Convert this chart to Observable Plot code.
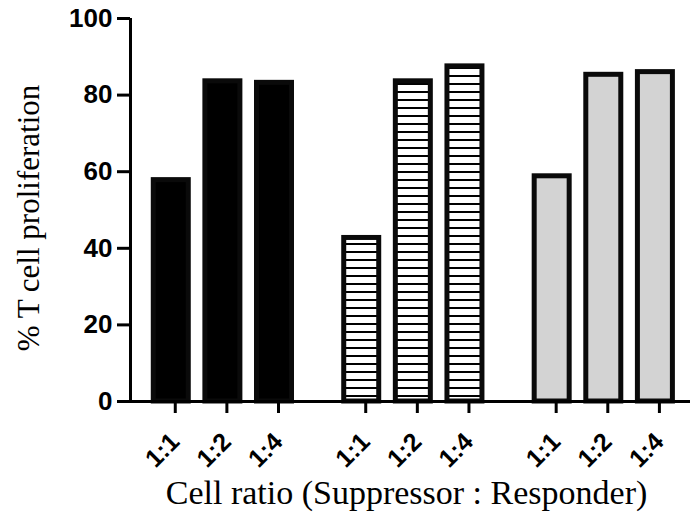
<!DOCTYPE html>
<html>
<head>
<meta charset="utf-8">
<script src="https://cdn.jsdelivr.net/npm/d3@7"></script>
<script src="https://cdn.jsdelivr.net/npm/@observablehq/plot@0.6"></script>
<style>
  html, body { margin: 0; padding: 0; background: #fff; }
  #chart { width: 691px; height: 518px; }
</style>
</head>
<body>
<div id="chart"></div>
<script>
// ---- data ----
const groupIndex = [0, 1, 2];                 // three unlabeled bar groups
const ratios = ["1:1", "1:2", "1:4"];          // tick labels
const groupValues = [
  [57.8, 83.6, 83.2],   // group 1 (solid black)
  [42.7, 83.6, 87.5],   // group 2 (horizontal stripes)
  [58.8, 85.3, 86.0]    // group 3 (light gray)
];
const groupFills = ["black", "url(#hatch)", "#d3d3d3"];
const yTicks = [0, 20, 40, 60, 80, 100];
const yLabel = "% T cell proliferation";
const xLabel = "Cell ratio (Suppressor : Responder)";

// ---- layout constants ----
const groupStep = 3.69;   // in bar slots
const halfBar = 0.339;
const xDomain = [-0.79, 10.06];

const rows = [];
groupIndex.forEach(g => {
  ratios.forEach((r, i) => {
    rows.push({group: g, ratio: r, pos: g * groupStep + i, value: groupValues[g][i], fill: groupFills[g]});
  });
});
const tickPositions = rows.map(d => d.pos);
const tickLabelOf = new Map(rows.map(d => [d.pos, d.ratio]));

const plot = Plot.plot({
  width: 691,
  height: 518,
  marginLeft: 130,
  marginRight: 1,
  marginTop: 18,
  marginBottom: 117,
  style: {background: "white", color: "black"},
  x: {type: "linear", domain: xDomain, axis: null},
  y: {domain: [0, 100], axis: null},
  marks: [
    Plot.rectY(rows, {
      x1: d => d.pos - halfBar,
      x2: d => d.pos + halfBar,
      y: "value",
      fill: d => d.fill,
      stroke: "#0a0a0a",
      strokeWidth: 5
    }),
    Plot.ruleY([0], {stroke: "black", strokeWidth: 3}),
    Plot.ruleX([xDomain[0]], {y1: 0, y2: 100, stroke: "black", strokeWidth: 3}),
    Plot.axisY({
      ticks: yTicks,
      tickSize: 13,
      tickPadding: 5,
      strokeWidth: 3,
      fontSize: 26,
      fontWeight: "bold",
      fontFamily: "'Liberation Sans', Arial, sans-serif",
      label: null
    }),
    Plot.axisX({
      ticks: tickPositions,
      tickFormat: v => tickLabelOf.get(v),
      tickSize: 12,
      tickPadding: 24,
      tickRotate: -45,
      dx: 4,
      strokeWidth: 3,
      fontSize: 25,
      fontWeight: "bold",
      fontFamily: "'Liberation Sans', Arial, sans-serif",
      label: null
    }),
    Plot.text([yLabel], {
      text: d => d,
      frameAnchor: "left",
      textAnchor: "middle",
      rotate: -90,
      dx: -101,
      dy: 8,
      fontSize: 31,
      fontFamily: "'Liberation Serif', 'Times New Roman', serif",
      fill: "black"
    }),
    Plot.text([xLabel], {
      text: d => d,
      frameAnchor: "bottom",
      dy: 102,
      dx: -4,
      fontSize: 34,
      fontFamily: "'Liberation Serif', 'Times New Roman', serif",
      fill: "black"
    })
  ]
});

// hatch pattern for the striped bars
const ns = "http://www.w3.org/2000/svg";
const svg = plot.tagName.toLowerCase() === "svg" ? plot : plot.querySelector("svg");
const defs = document.createElementNS(ns, "defs");
const pattern = document.createElementNS(ns, "pattern");
pattern.setAttribute("id", "hatch");
pattern.setAttribute("patternUnits", "userSpaceOnUse");
pattern.setAttribute("width", "8");
pattern.setAttribute("height", "8");
const bg = document.createElementNS(ns, "rect");
bg.setAttribute("width", "8");
bg.setAttribute("height", "8");
bg.setAttribute("fill", "white");
const line = document.createElementNS(ns, "line");
line.setAttribute("x1", "0");
line.setAttribute("x2", "8");
line.setAttribute("y1", "4");
line.setAttribute("y2", "4");
line.setAttribute("stroke", "black");
line.setAttribute("stroke-width", "2");
pattern.appendChild(bg);
pattern.appendChild(line);
defs.appendChild(pattern);
svg.insertBefore(defs, svg.firstChild);

document.getElementById("chart").appendChild(plot);
</script>
</body>
</html>
